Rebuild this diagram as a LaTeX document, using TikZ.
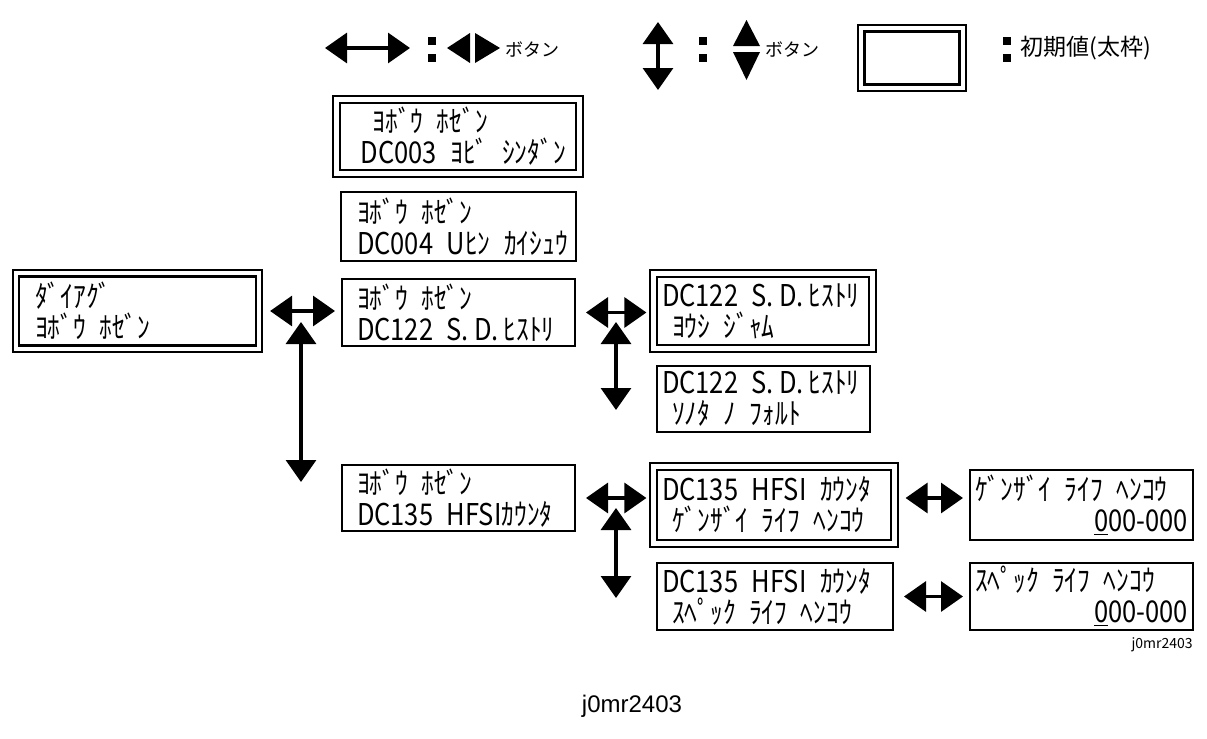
\documentclass[tikz,border=0pt]{standalone}
\usepackage{fontspec}
\usepackage{tikz}
\usetikzlibrary{arrows.meta,calc}
\setmainfont{Liberation Sans}
\newfontfamily\jp{Noto Sans CJK JP}
\newfontfamily\jpbox[FakeStretch=0.85]{Noto Sans CJK JP}
\newcommand\gp{\kern0.45em}

\begin{document}
\begin{tikzpicture}[x=0.5pt,y=-0.5pt,
  box/.style={draw,line width=1pt,align=left,inner ysep=0pt,
    font=\jpbox\fontsize{15}{15.5}\selectfont},
  initbox/.style={box,double,line width=1.1pt,double distance=2.2pt},
  nav/.style={{Triangle[length=11pt,width=15pt]}-{Triangle[length=11pt,width=15pt]},line width=1.6pt},
  navh/.style={nav,shorten <=5pt,shorten >=3pt}]
\useasboundingbox (0,0) rectangle (1207,739);

% legend
\coordinate (lgL) at (325,48);
\coordinate (lgR) at (410,48);
\coordinate (lgT) at (658,22);
\coordinate (lgB) at (658,90);
\draw[nav] (lgL) -- (lgR);
\draw[nav] (lgT) -- (lgB);
\foreach \x in {428,699,1003}{
  \fill (\x,37) rectangle ++(8,8);
  \fill (\x,54) rectangle ++(8,8);
}
\fill (447,48) -- (470,33) -- (470,63) -- cycle;
\fill (475,33) -- (500,48) -- (475,63) -- cycle;
\fill (733,46) -- (746.5,20) -- (760,46) -- cycle;
\fill (733,52) -- (760,52) -- (746.5,80) -- cycle;
\node[font=\jp\fontsize{9}{9}\selectfont,anchor=west,inner sep=0pt] (btnA) at (505,50) {ボタン};
\node[font=\jp\fontsize{9}{9}\selectfont,anchor=west,inner sep=0pt] (btnB) at (765,50) {ボタン};
\node[initbox,minimum width=50.75pt,minimum height=29.75pt] (legbox) at (912,58) {};
\node[font=\jp\fontsize{11.5}{11.5}\selectfont,anchor=west,inner sep=0pt] (initlbl) at (1020,48) {初期値(太枠)};

% menu boxes
\node[initbox,minimum width=121.5pt,minimum height=37pt,inner xsep=12pt,text width=97.5pt] (dc003) at (458,136.5)
  {\hspace*{6pt}ﾖﾎﾞｳ\gp ﾎｾﾞﾝ\\DC003\gp ﾖﾋﾞ\gp ｼﾝﾀﾞﾝ};
\node[box,minimum width=117.5pt,minimum height=34.5pt,inner xsep=8pt,text width=101.5pt] (dc004) at (458.5,226.5)
  {ﾖﾎﾞｳ\gp ﾎｾﾞﾝ\\DC004\gp Uﾋﾝ\gp ｶｲｼｭｳ};
\node[initbox,minimum width=121.5pt,minimum height=37.75pt,inner xsep=9.5pt,text width=102.5pt] (diag) at (137.5,311)
  {ﾀﾞｲｱｸﾞ\\ﾖﾎﾞｳ\gp ﾎｾﾞﾝ};
\node[box,minimum width=116.5pt,minimum height=33.5pt,inner xsep=7.5pt,text width=101.5pt] (dc122) at (458.5,312.5)
  {ﾖﾎﾞｳ\gp ﾎｾﾞﾝ\\DC122\gp S.\,D.\,ﾋｽﾄﾘ};
\node[initbox,minimum width=109.5pt,minimum height=37.5pt,inner xsep=4.25pt,text width=101pt] (yoshi) at (763,311)
  {DC122\gp S.\,D.\,ﾋｽﾄﾘ\\\hspace*{5pt}ﾖｳｼ\gp ｼﾞｬﾑ};
\node[box,minimum width=106.5pt,minimum height=33pt,inner xsep=2.5pt,text width=101.5pt] (sonota) at (763.5,399)
  {DC122\gp S.\,D.\,ﾋｽﾄﾘ\\\hspace*{5pt}ｿﾉﾀ\gp ﾉ\gp ﾌｫﾙﾄ};
\node[box,minimum width=116.5pt,minimum height=33pt,inner xsep=7.5pt,text width=101.5pt] (dc135) at (458.5,498)
  {ﾖﾎﾞｳ\gp ﾎｾﾞﾝ\\DC135\gp HFSIｶｳﾝﾀ};
\node[initbox,minimum width=120.5pt,minimum height=38.5pt,inner xsep=4.25pt,text width=112pt] (genzai) at (774,505)
  {DC135\gp HFSI\gp ｶｳﾝﾀ\\\hspace*{5pt}ｹﾞﾝｻﾞｲ\gp ﾗｲﾌ\gp ﾍﾝｺｳ};
\node[box,minimum width=118pt,minimum height=33.5pt,inner xsep=2.5pt,text width=113pt] (spec) at (775,596.5)
  {DC135\gp HFSI\gp ｶｳﾝﾀ\\\hspace*{5pt}ｽﾍﾟｯｸ\gp ﾗｲﾌ\gp ﾍﾝｺｳ};
\node[box,minimum width=111.5pt,minimum height=35pt,inner xsep=2.5pt,text width=106.5pt] (lifeA) at (1081.5,505)
  {ｹﾞﾝｻﾞｲ\gp ﾗｲﾌ\gp ﾍﾝｺｳ\\\hspace*{\fill}\underline{0}00-000\hspace*{2pt}};
\node[box,minimum width=111.5pt,minimum height=33.5pt,inner xsep=2.5pt,text width=106.5pt] (lifeB) at (1081.5,596.5)
  {ｽﾍﾟｯｸ\gp ﾗｲﾌ\gp ﾍﾝｺｳ\\\hspace*{\fill}\underline{0}00-000\hspace*{2pt}};

% left/right keys
\draw[navh] (diag.east) -- (diag.east -| dc122.west);
\draw[navh] (dc122.east) -- (dc122.east -| yoshi.west);
\draw[navh] (dc135.east) -- (dc135.east -| genzai.west);
\draw[navh] (genzai.east |- dc135.east) -- (lifeA.west |- dc135.east);
\draw[navh] (spec.east) -- (spec.east -| lifeB.west);

% up/down keys
\coordinate (v1t) at (301,322);
\coordinate (v1b) at (301,482);
\coordinate (v2t) at (616,322);
\coordinate (v2b) at (616,410);
\coordinate (v3t) at (616,508);
\coordinate (v3b) at (616,598);
\draw[nav] (v1t) -- (v1b);
\draw[nav] (v2t) -- (v2b);
\draw[nav] (v3t) -- (v3b);

\node[font=\jp\fontsize{7}{7}\selectfont,anchor=east,inner sep=0pt] (figsm) at (1193,645) {j0mr2403};
\node[font=\fontsize{12}{12}\selectfont] (fig) at (632,706) {j0mr2403};
\end{tikzpicture}
\end{document}
